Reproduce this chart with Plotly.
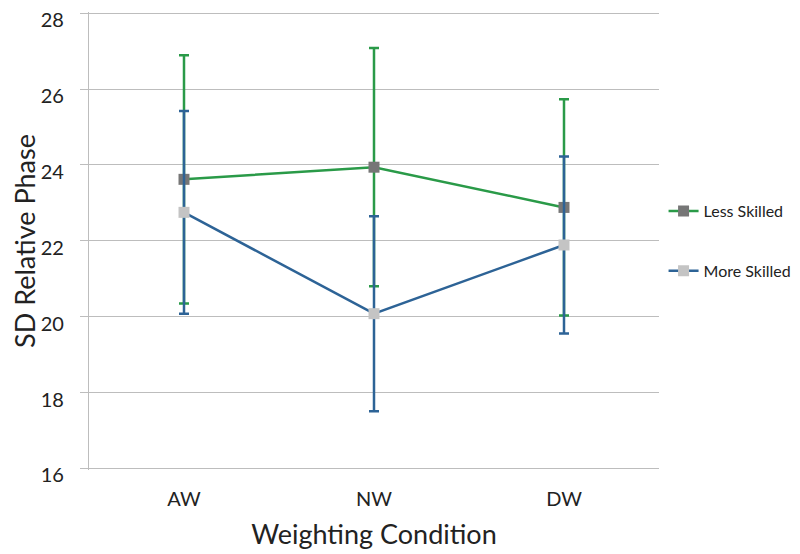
import plotly.graph_objects as go

categories = ["AW", "NW", "DW"]
less_skilled = [23.62, 23.94, 22.88]
less_err = [3.27, 3.14, 2.85]
more_skilled = [22.75, 20.08, 21.89]
more_err = [2.67, 2.57, 2.33]
y_ticks = [16, 18, 20, 22, 24, 26, 28]

FONT = "Lato, 'Open Sans', sans-serif"

fig = go.Figure()
fig.add_trace(go.Scatter(
    x=categories, y=less_skilled, name="Less Skilled", mode="lines+markers",
    line=dict(color="#2a9a48", width=2.5),
    marker=dict(symbol="square", size=11, color="#767676"),
    error_y=dict(type="data", array=less_err, color="#2a9a48", thickness=2.5, width=5),
    legendgroup="a",
))
fig.add_trace(go.Scatter(
    x=categories, y=more_skilled, name="More Skilled", mode="lines+markers",
    line=dict(color="#2d6396", width=2.5),
    marker=dict(symbol="square", size=11, color="#c4c4c4"),
    error_y=dict(type="data", array=more_err, color="#2d6396", thickness=2.5, width=5),
    legendgroup="b",
))

fig.update_layout(
    width=792, height=546,
    margin=dict(l=81, r=141, t=4, b=84, autoexpand=False),
    paper_bgcolor="white", plot_bgcolor="white",
    font=dict(family=FONT, color="#222222"),
    showlegend=True,
    legend=dict(x=1.008, y=0.5, xanchor="left", yanchor="middle",
                font=dict(size=16, family=FONT, color="#222222"),
                tracegroupgap=36, traceorder="grouped", bgcolor="rgba(0,0,0,0)",
                itemwidth=30),
    xaxis=dict(
        type="category", range=[-0.5, 2.5], automargin=False,
        showgrid=False, zeroline=False, showline=False,
        tickfont=dict(size=20), ticks="", ticklabelstandoff=15,
        title=dict(text="Weighting Condition", font=dict(size=27), standoff=16),
    ),
    yaxis=dict(
        range=[15.96, 28.03], tickvals=y_ticks, automargin=False,
        ticklabeloverflow="allow", ticklabelshift=7,
        showgrid=True, gridcolor="#bdbdbd", gridwidth=1.3,
        zeroline=False, showline=True, linecolor="#bdbdbd", linewidth=1.3,
        ticks="outside", ticklen=8, tickcolor="#bdbdbd", tickwidth=1.3,
        tickfont=dict(size=20), ticklabelstandoff=12,
        title=dict(text="SD Relative Phase", font=dict(size=27), standoff=55),
    ),
)

fig.write_html("out.html")
